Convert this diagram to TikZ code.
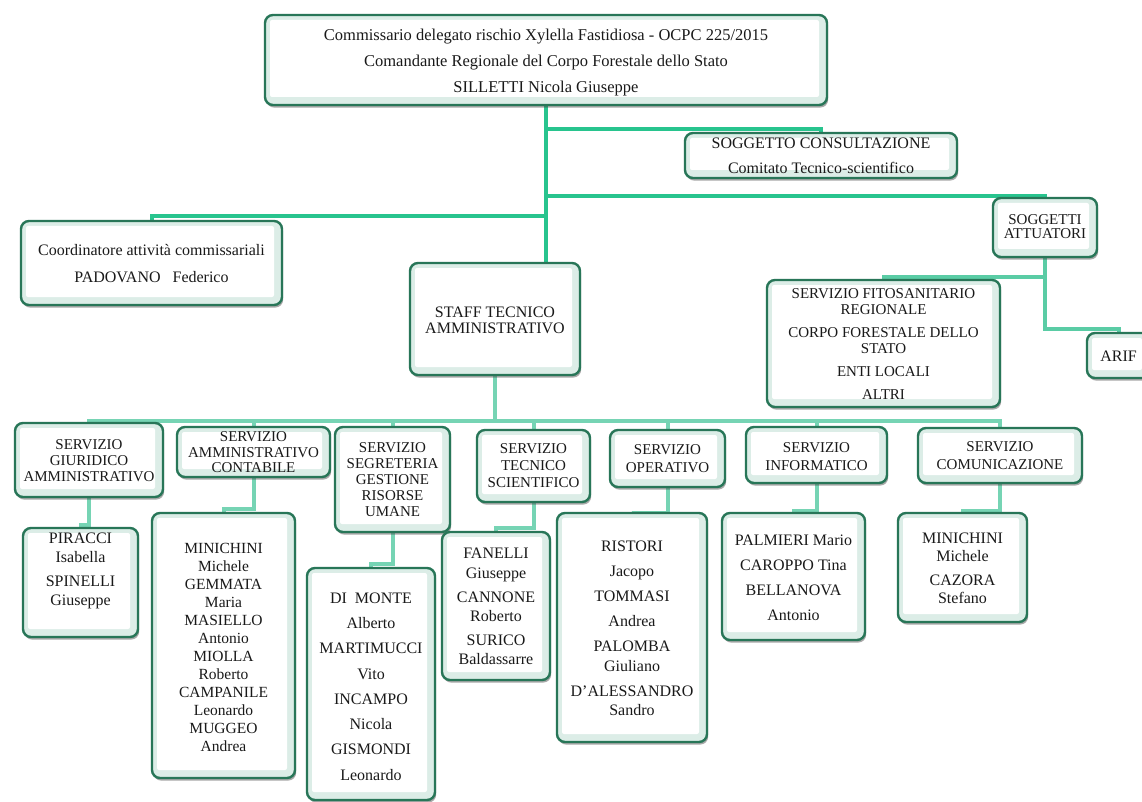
\documentclass[tikz,border=0pt]{standalone}
\usepackage{fontspec}
\setmainfont{Liberation Serif}
\usetikzlibrary{shadows}
\definecolor{boxline}{RGB}{40,118,88}
\definecolor{boxfill}{RGB}{220,237,231}
\definecolor{colA}{RGB}{40,196,142}
\definecolor{colB}{RGB}{90,204,165}
\definecolor{colC}{RGB}{118,212,180}
\definecolor{txtcol}{RGB}{25,25,25}
\pgfdeclarelayer{back}
\pgfdeclarelayer{bg}
\pgfsetlayers{back,bg,main}
\tikzset{
  box/.style={rounded corners=8pt, draw=boxline, line width=2.4pt, fill=boxfill, inner sep=0pt,
    drop shadow={shadow xshift=1.2pt, shadow yshift=-2.6pt, opacity=0.45, fill=black!75},
    path picture={\fill[white,rounded corners=2pt]
      ([xshift=5pt,yshift=-5pt]path picture bounding box.north west) rectangle
      ([xshift=-8pt,yshift=8pt]path picture bounding box.south east);}},
  txt/.style={align=center, inner sep=0pt, text=txtcol, font=\fontsize{15}{16}\selectfont},
  connA/.style={draw=colA, line width=4pt},
  connB/.style={draw=colB, line width=4pt},
  connC/.style={draw=colC, line width=4pt},
}
\newcommand\orgbox[8]{%
  \node[box, minimum width={#5pt-#3pt}, minimum height={#6pt-#4pt}] (#1) at ({(#3+#5)/2},{(#4+#6)/2}) {};
  \node[txt,#2] (#1t) at ({(#3+#5)/2},#7) {#8};
}
\begin{document}
\begin{tikzpicture}[x=1pt,y=-1pt]
\useasboundingbox (0,0) rectangle (1142,802);
\begin{pgfonlayer}{back}
\fill[white] (0,0) rectangle (1142,802);
\end{pgfonlayer}
\clip (0,0) rectangle (1142,802);

% top level
\orgbox{main}{font=\fontsize{16.5}{26}\selectfont}{265}{15}{827}{105}{63}{Commissario delegato rischio Xylella Fastidiosa - OCPC 225/2015\\Comandante Regionale del Corpo Forestale dello Stato\\SILLETTI Nicola Giuseppe}
\orgbox{sog}{font=\fontsize{16}{25}\selectfont}{685}{133}{957}{178}{155.5}{SOGGETTO CONSULTAZIONE\\Comitato Tecnico-scientifico}
\orgbox{crd}{font=\fontsize{16}{27}\selectfont}{21}{221}{282}{305}{264}{Coordinatore attività commissariali\\PADOVANO~~ Federico}
\orgbox{stf}{font=\fontsize{16}{16}\selectfont}{410}{263}{580}{375}{320}{STAFF TECNICO\\AMMINISTRATIVO}
\orgbox{sga}{font=\fontsize{15}{14}\selectfont}{993}{198}{1097}{257}{227}{SOGGETTI\\ATTUATORI}
\orgbox{fito}{font=\fontsize{15}{16}\selectfont}{767}{280}{1000}{407}{344}{SERVIZIO FITOSANITARIO\\REGIONALE\\[7pt]CORPO FORESTALE DELLO\\STATO\\[7pt]ENTI LOCALI\\[7pt]ALTRI}
\orgbox{arif}{font=\fontsize{16}{16}\selectfont}{1087}{333}{1150}{378}{356}{ARIF}

% services
\orgbox{giur}{}{15}{423}{163}{497}{461}{SERVIZIO\\GIURIDICO\\AMMINISTRATIVO}
\orgbox{cont}{font=\fontsize{15}{15.5}\selectfont}{177}{427}{330}{477}{452.5}{SERVIZIO\\AMMINISTRATIVO\\CONTABILE}
\orgbox{segr}{}{335}{427}{450}{532}{480}{SERVIZIO\\SEGRETERIA\\GESTIONE\\RISORSE\\UMANE}
\orgbox{tecn}{font=\fontsize{15}{17}\selectfont}{477}{430}{590}{502}{466}{SERVIZIO\\TECNICO\\SCIENTIFICO}
\orgbox{oper}{font=\fontsize{15}{18}\selectfont}{610}{430}{725}{487}{459}{SERVIZIO\\OPERATIVO}
\orgbox{info}{font=\fontsize{15}{18}\selectfont}{746}{427}{887}{483}{457}{SERVIZIO\\INFORMATICO}
\orgbox{comu}{font=\fontsize{15}{18}\selectfont}{918}{428}{1082}{483}{456}{SERVIZIO\\COMUNICAZIONE}

% people
\orgbox{pir}{font=\fontsize{16}{19}\selectfont}{23}{528}{138}{637}{570.5}{PIRACCI\\Isabella\\[5pt]SPINELLI\\Giuseppe}
\orgbox{mina}{font=\fontsize{15.5}{18}\selectfont}{152}{513}{295}{778}{647}{MINICHINI\\Michele\\GEMMATA\\Maria\\MASIELLO\\Antonio\\MIOLLA\\Roberto\\CAMPANILE\\Leonardo\\MUGGEO\\Andrea}
\orgbox{dim}{font=\fontsize{16}{25.3}\selectfont}{307}{568}{435}{800}{686.5}{DI~~MONTE\\Alberto\\MARTIMUCCI\\Vito\\INCAMPO\\Nicola\\GISMONDI\\Leonardo}
\orgbox{fan}{font=\fontsize{16}{19.5}\selectfont}{442}{532}{550}{680}{606.5}{FANELLI\\Giuseppe\\[4.5pt]CANNONE\\Roberto\\[4pt]SURICO\\Baldassarre}
\orgbox{ris}{font=\fontsize{16}{19}\selectfont}{557}{513}{707}{742}{628.5}{RISTORI\\[6pt]Jacopo\\[6pt]TOMMASI\\[6pt]Andrea\\[6pt]PALOMBA\\[1pt]Giuliano\\[6pt]D'ALESSANDRO\\Sandro}
\orgbox{pal}{font=\fontsize{16}{25}\selectfont}{722}{513}{865}{640}{578}{PALMIERI Mario\\CAROPPO Tina\\BELLANOVA\\Antonio}
\orgbox{minb}{font=\fontsize{16}{18}\selectfont}{898}{513}{1027}{622}{568}{MINICHINI\\Michele\\[6pt]CAZORA\\Stefano}

\begin{pgfonlayer}{bg}
\draw[connA] (main.south) -- (main.south |- stf.north);
\draw[connA] (main.south) -- ++(0,23) -| (sog.north);
\draw[connA] (main.south) -- ++(0,90) -| (sga.north);
\draw[connA] (main.south) -- ++(0,110) -| (crd.north);
\draw[connB] (sga.south) -- ++(0,19) -| (fito.north);
\draw[connB] (sga.south) -- ++(0,71) -| (arif.north);
\foreach \c in {giur,cont,segr,tecn,oper,info,comu}
  \draw[connC] (stf.south) -- ++(0,45) -| (\c.north);
\draw[connC] (giur.south) -- ++(0,27) -| (pir.north);
\draw[connC] (cont.south) -- ++(0,31) -| (mina.north);
\draw[connC] (segr.south) -- ++(0,31) -| (dim.north);
\draw[connC] (tecn.south) -- ++(0,25) -| (fan.north);
\draw[connC] (oper.south) -- ++(0,25) -| (ris.north);
\draw[connC] (info.south) -- ++(0,27) -| (pal.north);
\draw[connC] (comu.south) -- ++(0,27) -| (minb.north);
\end{pgfonlayer}
\end{tikzpicture}
\end{document}
